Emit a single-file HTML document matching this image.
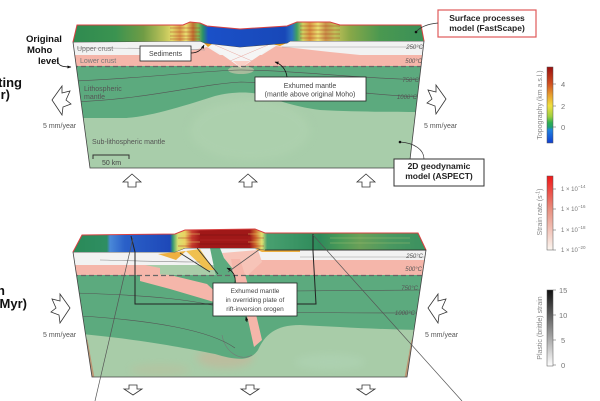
<!DOCTYPE html>
<html><head><meta charset="utf-8"><style>
html,body{margin:0;padding:0;background:#fff;}
svg{display:block;}
text{font-family:"Liberation Sans",sans-serif;}
</style></head><body>
<svg width="600" height="401" viewBox="0 0 600 401" xmlns="http://www.w3.org/2000/svg">
<defs>
<linearGradient id="topo1" gradientUnits="userSpaceOnUse" x1="73" y1="0" x2="424" y2="0">
<stop offset="0" stop-color="#2f8a50"/><stop offset=".12" stop-color="#3a9350"/><stop offset=".2" stop-color="#6f9c45"/>
<stop offset=".256" stop-color="#b8c058"/><stop offset=".282" stop-color="#e0d868"/><stop offset=".305" stop-color="#d89848"/>
<stop offset=".322" stop-color="#e8e070"/><stop offset=".342" stop-color="#c07030"/><stop offset=".356" stop-color="#88b850"/>
<stop offset=".37" stop-color="#2a9068"/><stop offset=".385" stop-color="#1a50c8"/><stop offset=".604" stop-color="#1848b8"/>
<stop offset=".624" stop-color="#2a70c0"/><stop offset=".638" stop-color="#40a060"/><stop offset=".655" stop-color="#d0d060"/>
<stop offset=".675" stop-color="#d89040"/><stop offset=".698" stop-color="#e8e070"/><stop offset=".72" stop-color="#c89048"/>
<stop offset=".746" stop-color="#c0c058"/><stop offset=".789" stop-color="#88a848"/><stop offset=".875" stop-color="#4a9850"/>
<stop offset="1" stop-color="#3a9058"/>
</linearGradient>
<linearGradient id="topo2" gradientUnits="userSpaceOnUse" x1="73" y1="0" x2="426" y2="0">
<stop offset="0" stop-color="#2a8a58"/><stop offset=".096" stop-color="#2e8e62"/><stop offset=".105" stop-color="#4a88d8"/>
<stop offset=".147" stop-color="#2a60c8"/><stop offset=".275" stop-color="#1e48b8"/><stop offset=".283" stop-color="#3a9a70"/>
<stop offset=".297" stop-color="#d8e070"/><stop offset=".317" stop-color="#e8d060"/><stop offset=".337" stop-color="#c84030"/>
<stop offset=".36" stop-color="#a01818"/><stop offset=".501" stop-color="#a01818"/><stop offset=".518" stop-color="#d07030"/>
<stop offset=".535" stop-color="#e0e070"/><stop offset=".55" stop-color="#48a070"/><stop offset=".7" stop-color="#2e8a5a"/>
<stop offset=".756" stop-color="#4a9a58"/><stop offset=".813" stop-color="#6aa058"/><stop offset=".898" stop-color="#4a9860"/>
<stop offset="1" stop-color="#3a9060"/>
</linearGradient>
<linearGradient id="cbTopo" x1="0" y1="0" x2="0" y2="1">
<stop offset="0" stop-color="#9a0e0e"/><stop offset=".22" stop-color="#d05020"/><stop offset=".37" stop-color="#e8a030"/>
<stop offset=".51" stop-color="#f0e040"/><stop offset=".65" stop-color="#a0d040"/><stop offset=".73" stop-color="#30b050"/>
<stop offset=".79" stop-color="#20a070"/><stop offset=".83" stop-color="#2080e0"/><stop offset="1" stop-color="#1040d0"/>
</linearGradient>
<linearGradient id="cbStrain" x1="0" y1="0" x2="0" y2="1">
<stop offset="0" stop-color="#f01818"/><stop offset=".45" stop-color="#e89080"/><stop offset="1" stop-color="#fbf6f0"/>
</linearGradient>
<linearGradient id="cbPlastic" x1="0" y1="0" x2="0" y2="1">
<stop offset="0" stop-color="#111"/><stop offset="1" stop-color="#fff"/>
</linearGradient>
<clipPath id="c1"><polygon points="73,42 200,41 205,43 240,47 287,43 290,41 424,41 409,168 90,168"/></clipPath>
<clipPath id="c2"><polygon points="73,252 175,252 185,248 255,248 265,250 426,250 407,377 92,377"/></clipPath>
<filter id="bl" x="-50%" y="-50%" width="200%" height="200%"><feGaussianBlur stdDeviation="4"/></filter>
<marker id="ah" viewBox="0 0 10 10" refX="9" refY="5" markerWidth="5" markerHeight="5" orient="auto"><path d="M0,1 L10,5 L0,9 Z" fill="#111"/></marker>
</defs>

<!-- ================= PANEL 1 ================= -->
<g clip-path="url(#c1)">
<rect x="60" y="30" width="380" height="150" fill="#a8cdaa"/>
<ellipse cx="250" cy="130" rx="60" ry="30" fill="#b0d3b0" opacity=".6" filter="url(#bl)"/>
<path d="M60,66 L430,66 L430,112 C400,112 360,112 320,110 C290,106 275,99 262,95 C250,91 230,92 215,96 C190,104 150,117 125,118 L60,118 Z" fill="#5caa7e"/>
<rect x="60" y="30" width="380" height="25" fill="#f2f2f2"/>
<rect x="60" y="55" width="380" height="11" fill="#f5b6aa"/>
<polygon points="170,55 207,47 241,68 276,46 330,52 360,55 360,66 170,66" fill="#f5b6aa"/>
<polygon points="207,44 276,44 241,68" fill="#f5f5f5"/>
<polygon points="233,61 250,61 241,68" fill="#fbd0c6"/>
<line x1="215" y1="45" x2="252" y2="61" stroke="#e8a8a0" stroke-width=".5"/>
<line x1="268" y1="45" x2="230" y2="61" stroke="#e8a8a0" stroke-width=".5"/>
<ellipse cx="241" cy="70" rx="13" ry="4" fill="#d8c8b0" opacity=".6"/>
<polygon points="204,43 212,44 208,47" fill="#e8a020"/>
<polygon points="272,44 287,43 280,46" fill="#e8a020"/>
<path d="M77,48 C130,48 180,49 205,50" stroke="#999" stroke-width=".6" fill="none"/>
<path d="M282,47 C330,47 380,47 424,47" stroke="#999" stroke-width=".6" fill="none"/>
<path d="M73,81 C150,78 210,70 241,70 C290,70 350,78 424,80" stroke="#555" stroke-width=".6" fill="none"/>
<path d="M73,102 C150,99 200,84 241,82 C300,84 360,95 424,97" stroke="#555" stroke-width=".6" fill="none"/>
<line x1="73" y1="66.5" x2="424" y2="66.5" stroke="#666" stroke-width="1.3" stroke-dasharray="5,3"/>
</g>
<polygon points="73,42 200,41 205,43 240,47 287,43 290,41 424,41 409,168 90,168" fill="none" stroke="#444" stroke-width=".8"/>
<!-- top face 1 -->
<polygon points="73,42 77,25 183,25 190,22 200,23 207,26 240,29 287,26 297,22 330,22 340,25 421,25 424,41 290,41 287,43 240,47 205,43 200,41 73,42" fill="url(#topo1)"/>
<g stroke="#b03020" stroke-width=".7" opacity=".55">
<line x1="170" y1="28" x2="200" y2="28"/><line x1="170" y1="32" x2="200" y2="32"/><line x1="170" y1="36" x2="200" y2="36"/><line x1="170" y1="39" x2="200" y2="39"/>
<line x1="300" y1="26" x2="340" y2="26"/><line x1="300" y1="30" x2="340" y2="30"/><line x1="300" y1="34" x2="340" y2="34"/><line x1="300" y1="38" x2="340" y2="38"/>
</g>
<path d="M73,42 L77,25 L183,25 L190,22 L200,23 L207,26 L240,29 L287,26 L297,22 L330,22 L340,25 L421,25 L424,41" fill="none" stroke="#d84040" stroke-width="1"/>

<!-- labels panel 1 -->
<text x="26" y="42" font-size="9.5" font-weight="bold" fill="#111">Original</text>
<text x="27" y="53" font-size="9.5" font-weight="bold" fill="#111">Moho</text>
<text x="38" y="64" font-size="9.5" font-weight="bold" fill="#111">level</text>
<path d="M57,59 C58,66 62,67 71,67" fill="none" stroke="#111" stroke-width=".8" marker-end="url(#ah)"/>
<text x="22" y="87" font-size="13" font-weight="bold" fill="#111" text-anchor="end">ting</text>
<text x="10" y="99" font-size="13" font-weight="bold" fill="#111" text-anchor="end">r)</text>
<text x="77" y="51" font-size="7" fill="#777">Upper crust</text>
<text x="80" y="63" font-size="7" fill="#777">Lower crust</text>
<rect x="140" y="46" width="51" height="15" fill="#fff" stroke="#222" stroke-width=".8"/>
<text x="165.5" y="56" font-size="7" fill="#444" text-anchor="middle">Sediments</text>
<path d="M191,53 C198,53 202,49 204,45" fill="none" stroke="#111" stroke-width=".8" marker-end="url(#ah)"/>
<text x="84" y="91" font-size="7" fill="#555">Lithospheric</text>
<text x="84" y="99" font-size="7" fill="#555">mantle</text>
<text x="92" y="144" font-size="7" fill="#555">Sub-lithospheric mantle</text>
<path d="M93,159 L93,155 L129,155 L129,159" fill="none" stroke="#333" stroke-width="1"/>
<text x="102" y="165" font-size="7" fill="#444">50 km</text>
<g font-size="6" font-style="italic" fill="#555" text-anchor="end">
<text x="423" y="49">250°C</text><text x="422" y="63">500°C</text><text x="419" y="82">750°C</text><text x="417" y="99">1000°C</text>
</g>
<rect x="255" y="77" width="111" height="24" fill="#fff" stroke="#222" stroke-width=".8"/>
<text x="310" y="88" font-size="7" fill="#444" text-anchor="middle">Exhumed mantle</text>
<text x="310" y="96.5" font-size="7" fill="#444" text-anchor="middle">(mantle above original Moho)</text>
<path d="M287,77 C286,69 281,64 275,62" fill="none" stroke="#111" stroke-width=".8" marker-end="url(#ah)"/>
<rect x="438" y="10" width="98" height="27" fill="#fff" stroke="#e05a5a" stroke-width="1.2"/>
<text x="487" y="21" font-size="8.5" font-weight="bold" fill="#222" text-anchor="middle">Surface processes</text>
<text x="487" y="31" font-size="8.5" font-weight="bold" fill="#222" text-anchor="middle">model (FastScape)</text>
<path d="M438,23 C428,24 420,27 416,32" fill="none" stroke="#333" stroke-width=".7"/>
<circle cx="416" cy="32" r="1.3" fill="#111"/>
<rect x="394" y="159" width="90" height="27" fill="#fff" stroke="#333" stroke-width="1"/>
<text x="439" y="169" font-size="8.5" font-weight="bold" fill="#222" text-anchor="middle">2D geodynamic</text>
<text x="439" y="179" font-size="8.5" font-weight="bold" fill="#222" text-anchor="middle">model (ASPECT)</text>
<path d="M424,159 C424,150 415,143 400,142" fill="none" stroke="#333" stroke-width=".7"/>
<circle cx="400" cy="142" r="1.3" fill="#111"/>
<text x="43" y="128" font-size="7" fill="#555">5 mm/year</text>
<text x="424" y="128" font-size="7" fill="#555">5 mm/year</text>

<!-- arrows panel 1 -->
<g fill="#fff" stroke="#333" stroke-width=".8" stroke-linejoin="miter">
<polygon points="52,100 62,86 62,93 70,91 66,100 71,104 63,107 62,115"/>
<polygon transform="translate(498,-1) scale(-1,1)" points="52,100 62,86 62,93 70,91 66,100 71,104 63,107 62,115"/>
<polygon points="132,174 141,182 136,182 136,187 128,187 128,182 123,182"/>
<polygon points="248,174 257,182 252,182 252,187 244,187 244,182 239,182"/>
<polygon points="366,174 375,182 370,182 370,187 362,187 362,182 357,182"/>
</g>

<!-- ================= PANEL 2 ================= -->
<g clip-path="url(#c2)">
<rect x="60" y="240" width="380" height="150" fill="#a8cca8"/>
<ellipse cx="225" cy="358" rx="28" ry="10" fill="#d8a890" opacity=".4" filter="url(#bl)"/>
<ellipse cx="160" cy="370" rx="30" ry="6" fill="#d0b090" opacity=".25" filter="url(#bl)"/>
<ellipse cx="330" cy="362" rx="35" ry="8" fill="#b4d8bc" opacity=".4" filter="url(#bl)"/>
<path d="M60,275 L430,275 L430,330 C390,330 340,327 300,325 C275,325 265,335 258,350 C250,362 235,360 215,354 C170,345 130,338 60,332 Z" fill="#5caa7e"/>
<path d="M222,335 C225,352 240,362 252,355" stroke="#777" stroke-width=".6" fill="none"/>
<rect x="60" y="240" width="380" height="25" fill="#f2f2f2"/>
<rect x="60" y="265" width="85" height="10" fill="#f5b6aa"/>
<polygon points="145,265 145,275 160,275 160,268" fill="#f5b6aa"/>
<rect x="235" y="260" width="200" height="15" fill="#f5b6aa"/>
<polygon points="140,273 170,275 207,284 224,300 214,302 170,289 140,281" fill="#f5b6aa"/>
<polygon points="158,254 186,251 176,260" fill="#eeb040"/>
<polygon points="186,251 200,249 214,270 206,270" fill="#f0c050"/>
<polygon points="255,249 300,250 300,252 262,252" fill="#eeb040"/>
<polygon points="222,253 258,250 262,262 248,275 232,275" fill="#f7c4b8"/>
<polygon points="231,259 240,259 246,278 255,310 262,340 254,347 248,320 240,295 234,275" fill="#f5b6aa"/>
<polygon points="210,248 220,248 224,258 232,268 234,280 240,295 248,320 252,345 244,340 232,310 220,290 215,272" fill="#5caa7e"/>
<line x1="180" y1="253" x2="210" y2="272" stroke="#333" stroke-width=".9"/>
<line x1="197" y1="248" x2="218" y2="274" stroke="#333" stroke-width=".9"/>
<line x1="260" y1="249" x2="228" y2="272" stroke="#555" stroke-width=".8"/>
<path d="M100,260 C140,261 180,262 200,262" stroke="#888" stroke-width=".6" fill="none"/>
<path d="M300,257 C340,257 380,257 426,257" stroke="#999" stroke-width=".6" fill="none"/>
<path d="M73,293 C150,295 200,300 230,310" stroke="#555" stroke-width=".6" fill="none"/>
<path d="M290,291 C340,291 380,290 426,290" stroke="#555" stroke-width=".6" fill="none"/>
<path d="M80,316 C150,320 210,330 235,348" stroke="#555" stroke-width=".6" fill="none"/>
<path d="M280,312 C330,313 380,313 420,313" stroke="#555" stroke-width=".6" fill="none"/>
<line x1="73" y1="275.5" x2="426" y2="275.5" stroke="#666" stroke-width="1.3" stroke-dasharray="5,3"/>
<line x1="86" y1="340" x2="93" y2="378" stroke="#d06040" stroke-width="3" opacity=".5"/>
<line x1="413" y1="340" x2="406" y2="378" stroke="#d06040" stroke-width="3" opacity=".5"/>
</g>
<polygon points="73,252 175,252 185,248 255,248 265,250 426,250 407,377 92,377" fill="none" stroke="#444" stroke-width=".8"/>
<!-- top face 2 -->
<polygon points="73,252 82,235 175,234 185,230 255,229 265,233 418,233 426,250 265,250 255,248 185,248 175,252" fill="url(#topo2)"/>
<g stroke-width=".7" opacity=".6">
<line x1="178" y1="234" x2="200" y2="234" stroke="#f0e070"/><line x1="178" y1="238" x2="200" y2="238" stroke="#b02020"/>
<line x1="178" y1="242" x2="200" y2="242" stroke="#f0e070"/><line x1="178" y1="246" x2="200" y2="246" stroke="#b02020"/>
<line x1="200" y1="235" x2="250" y2="235" stroke="#701010"/><line x1="200" y1="240" x2="250" y2="240" stroke="#c03030"/>
<line x1="200" y1="244" x2="250" y2="244" stroke="#701010"/>
<line x1="248" y1="234" x2="264" y2="234" stroke="#f0e070"/><line x1="248" y1="238" x2="264" y2="238" stroke="#b02020"/>
<line x1="248" y1="242" x2="264" y2="242" stroke="#f0e070"/><line x1="248" y1="246" x2="264" y2="246" stroke="#b02020"/>
<line x1="330" y1="238" x2="410" y2="238" stroke="#a0c070"/><line x1="330" y1="243" x2="410" y2="243" stroke="#a0c070"/>
</g>
<path d="M73,252 L82,235 L175,234 L185,230 L255,229 L265,233 L418,233 L426,250" fill="none" stroke="#d84040" stroke-width="1"/>
<line x1="265" y1="250" x2="426" y2="250" stroke="#222" stroke-width=".8"/>

<!-- zoom rectangle & lines -->
<path d="M131,236 L135,252 L135,304 L316,304 L313,251 L313,234" fill="none" stroke="#222" stroke-width="1"/>
<line x1="133" y1="238" x2="95" y2="401" stroke="#555" stroke-width=".7"/>
<line x1="313" y1="235" x2="462" y2="401" stroke="#555" stroke-width=".7"/>

<!-- labels panel 2 -->
<text x="5" y="295" font-size="13" font-weight="bold" fill="#111" text-anchor="end">n</text>
<text x="27" y="308" font-size="13" font-weight="bold" fill="#111" text-anchor="end">Myr)</text>
<g font-size="6" font-style="italic" fill="#555" text-anchor="end">
<text x="423" y="258">250°C</text><text x="422" y="271">500°C</text><text x="418" y="290">750°C</text><text x="415" y="315">1000°C</text>
</g>
<rect x="213" y="283" width="84" height="33" fill="#fff" stroke="#222" stroke-width=".8"/>
<text x="255" y="293" font-size="6.5" fill="#444" text-anchor="middle">Exhumed mantle</text>
<text x="255" y="302" font-size="6.5" fill="#444" text-anchor="middle">in overriding plate of</text>
<text x="255" y="311" font-size="6.5" fill="#444" text-anchor="middle">rift-inversion orogen</text>
<path d="M235,283 C236,276 233,271 227,268" fill="none" stroke="#111" stroke-width=".8" marker-end="url(#ah)"/>
<path d="M247,322 L246,317" fill="none" stroke="#111" stroke-width=".8" marker-end="url(#ah)"/>
<text x="43" y="337" font-size="7" fill="#555">5 mm/year</text>
<text x="425" y="337" font-size="7" fill="#555">5 mm/year</text>
<g fill="#fff" stroke="#333" stroke-width=".8">
<polygon transform="translate(122,208) scale(-1,1)" points="52,100 62,86 62,93 70,91 66,100 71,104 63,107 62,115"/>
<polygon transform="translate(376,208)" points="52,100 62,86 62,93 70,91 66,100 71,104 63,107 62,115"/>
<polygon points="129,385 137,385 137,389 142,389 133,395 124,389 129,389"/>
<polygon points="246,385 254,385 254,389 259,389 250,395 241,389 246,389"/>
<polygon points="362,385 370,385 370,389 375,389 366,395 357,389 362,389"/>
</g>

<!-- ================= COLORBARS ================= -->
<rect x="547" y="67" width="6" height="76" fill="url(#cbTopo)" stroke="#555" stroke-width=".5"/>
<g stroke="#555" stroke-width=".5">
<line x1="553" y1="84" x2="556" y2="84"/><line x1="553" y1="106" x2="556" y2="106"/><line x1="553" y1="127" x2="556" y2="127"/>
</g>
<g font-size="7.5" fill="#777">
<text x="561" y="87">4</text><text x="561" y="109">2</text><text x="561" y="130">0</text>
</g>
<text transform="translate(542,105) rotate(-90)" font-size="7" fill="#888" text-anchor="middle">Topography (km a.s.l.)</text>

<rect x="547" y="176" width="6" height="74" fill="url(#cbStrain)" stroke="#555" stroke-width=".5"/>
<g stroke="#555" stroke-width=".5">
<line x1="553" y1="189" x2="556" y2="189"/><line x1="553" y1="209" x2="556" y2="209"/><line x1="553" y1="230" x2="556" y2="230"/><line x1="553" y1="250" x2="556" y2="250"/>
</g>
<g font-size="6" fill="#777">
<text x="561" y="191">1 × 10<tspan font-size="4.5" dy="-3">−14</tspan></text>
<text x="561" y="211">1 × 10<tspan font-size="4.5" dy="-3">−16</tspan></text>
<text x="561" y="232">1 × 10<tspan font-size="4.5" dy="-3">−18</tspan></text>
<text x="561" y="252">1 × 10<tspan font-size="4.5" dy="-3">−20</tspan></text>
</g>
<text transform="translate(542,212) rotate(-90)" font-size="7" fill="#888" text-anchor="middle">Strain rate (s<tspan font-size="5" dy="-2.5">-1</tspan><tspan dy="2.5">)</tspan></text>

<rect x="547" y="290" width="6" height="76" fill="url(#cbPlastic)" stroke="#555" stroke-width=".5"/>
<g stroke="#555" stroke-width=".5">
<line x1="553" y1="290" x2="556" y2="290"/><line x1="553" y1="315" x2="556" y2="315"/><line x1="553" y1="340" x2="556" y2="340"/><line x1="553" y1="365" x2="556" y2="365"/>
</g>
<g font-size="7.5" fill="#777">
<text x="559" y="293">15</text><text x="559" y="318">10</text><text x="561" y="343">5</text><text x="561" y="368">0</text>
</g>
<text transform="translate(542,328) rotate(-90)" font-size="7" fill="#888" text-anchor="middle">Plastic (brittle) strain</text>
</svg>
</body></html>
